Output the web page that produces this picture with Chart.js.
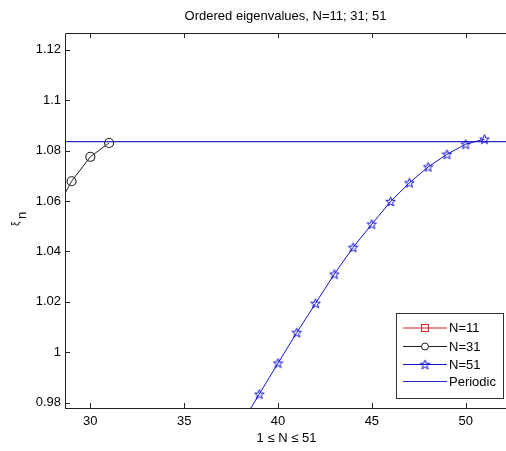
<!DOCTYPE html>
<html><head><meta charset="utf-8">
<script src="https://cdn.jsdelivr.net/npm/chart.js@4"></script>
<style>html,body{margin:0;padding:0;background:#fff;overflow:hidden;}#wrap{width:506px;height:451px;position:relative;overflow:hidden;}</style>
</head><body><div id="wrap"><canvas id="c" width="513" height="451"></canvas></div>
<script>
const titleText = 'Ordered eigenvalues, N=11; 31; 51';
const xLabel = '1 \u2264 N \u2264 51';
const xTicks = [30, 35, 40, 45, 50];
const yTicks = [0.98, 1.00, 1.02, 1.04, 1.06, 1.08, 1.10, 1.12];
const xN11 = [];
const n11 = [];
const xN31 = [28, 29, 30, 31];
const n31 = [1.054, 1.0678, 1.0775, 1.0830];
const xN51 = [38, 39, 40, 41, 42, 43, 44, 45, 46, 47, 48, 49, 50, 51];
const n51 = [0.971, 0.9834, 0.9957, 1.0078, 1.0194, 1.0310, 1.0416, 1.0508, 1.0598, 1.0672, 1.0735, 1.0785, 1.0825, 1.0845];
const xPeriodic = [28, 53];
const periodic = [1.0835, 1.0835];
const seriesNames = ['N=11', 'N=31', 'N=51', 'Periodic'];

const FONT = "'Liberation Sans', Arial, sans-serif";
const pairs = (xs, ys) => xs.map((x, i) => ({x: x, y: ys[i]}));

function starImg(color) {
  const c = document.createElement('canvas');
  c.width = 11; c.height = 11;
  const g = c.getContext('2d');
  g.strokeStyle = color; g.lineWidth = 1;
  g.beginPath();
  for (let i = 0; i < 10; i++) {
    const r = i % 2 === 0 ? 5 : 2.1;
    const a = -Math.PI / 2 + i * Math.PI / 5;
    const px = 5.5 + r * Math.cos(a), py = 5.9 + r * Math.sin(a);
    if (i === 0) g.moveTo(px, py); else g.lineTo(px, py);
  }
  g.closePath(); g.stroke();
  return c;
}
const STAR = starImg('#1010d8');

const colors = ['#e02020', '#202020', '#1414d0', '#2a2ac4'];

const decor = {
  id: 'decor',
  afterDraw(chart) {
    const ctx = chart.ctx, a = chart.chartArea;
    const xs = chart.scales.x, ys = chart.scales.y;
    ctx.save();
    ctx.strokeStyle = '#222'; ctx.lineWidth = 1;
    ctx.beginPath();
    ctx.moveTo(a.left + 0.5, a.bottom + 0.5); ctx.lineTo(a.left + 0.5, a.top + 0.5); ctx.lineTo(a.right, a.top + 0.5);
    ctx.moveTo(a.left, a.bottom + 0.5); ctx.lineTo(a.right, a.bottom + 0.5);
    ctx.stroke();
    ctx.beginPath();
    xTicks.forEach(v => {
      const px = Math.round(xs.getPixelForValue(v)) + 0.5;
      ctx.moveTo(px, a.bottom); ctx.lineTo(px, a.bottom - 5);
      ctx.moveTo(px, a.top); ctx.lineTo(px, a.top + 5);
    });
    yTicks.forEach(v => {
      const py = Math.round(ys.getPixelForValue(v)) + 0.5;
      ctx.moveTo(a.left, py); ctx.lineTo(a.left + 5, py);
    });
    ctx.stroke();
    ctx.fillStyle = '#000';
    ctx.font = '13px ' + FONT;
    ctx.textAlign = 'center'; ctx.textBaseline = 'middle';
    const cx = (65 + 506) / 2;
    ctx.fillText(titleText, cx, 16);
    ctx.fillText(xLabel, cx + 1, 438);
    ctx.save();
    ctx.translate(18, 224);
    ctx.rotate(-Math.PI / 2);
    ctx.textAlign = 'left';
    ctx.font = '10px ' + FONT;
    ctx.fillText('\u03BE', -2, -2);
    ctx.font = '13px ' + FONT;
    ctx.fillText('n', 5, 4);
    ctx.restore();
    const L = 396, T = 313, R = 504, B = 399;
    ctx.fillStyle = '#fff';
    ctx.fillRect(L, T, R - L, B - T);
    ctx.strokeStyle = '#333';
    ctx.strokeRect(L + 0.5, T + 0.5, R - L - 1, B - T - 1);
    const rowsY = [327.5, 346, 364, 381];
    chart.data.datasets.forEach((ds, i) => {
      const y = rowsY[i];
      ctx.strokeStyle = ds.borderColor; ctx.lineWidth = 1;
      ctx.beginPath(); ctx.moveTo(403, y + 0.5); ctx.lineTo(447, y + 0.5); ctx.stroke();
      const mx = 425;
      if (i === 0) { ctx.strokeRect(mx - 3.5, y - 3, 7, 7); }
      else if (i === 1) { ctx.fillStyle = '#fff'; ctx.beginPath(); ctx.arc(mx, y + 0.5, 3.5, 0, Math.PI * 2); ctx.fill(); ctx.stroke(); }
      else if (i === 2) { ctx.drawImage(STAR, mx - 5.5, y - 5); }
      ctx.fillStyle = '#000';
      ctx.font = '13px ' + FONT;
      ctx.textAlign = 'left'; ctx.textBaseline = 'middle';
      ctx.fillText(ds.label, 449, y + 1);
    });
    ctx.restore();
  }
};

new Chart(document.getElementById('c'), {
  type: 'line',
  data: {
    datasets: [
      { label: seriesNames[0], data: pairs(xN11, n11), borderColor: colors[0], borderWidth: 1, pointStyle: 'rect', pointRadius: 4, pointBorderColor: colors[0], pointBackgroundColor: 'rgba(0,0,0,0)', pointBorderWidth: 1 },
      { label: seriesNames[1], data: pairs(xN31, n31), borderColor: colors[1], borderWidth: 1, pointStyle: 'circle', pointRadius: 4.5, pointBorderColor: '#202020', pointBackgroundColor: 'rgba(0,0,0,0)', pointBorderWidth: 1.1 },
      { label: seriesNames[2], data: pairs(xN51, n51), borderColor: colors[2], borderWidth: 1, pointStyle: STAR, pointRadius: 5 },
      { label: seriesNames[3], data: pairs(xPeriodic, periodic), borderColor: colors[3], borderWidth: 1.2, pointRadius: 0 }
    ]
  },
  options: {
    responsive: false, animation: false,
    layout: { padding: { top: 33, right: 0, left: 0, bottom: 0 } },
    plugins: { legend: { display: false }, tooltip: { enabled: false }, title: { display: false } },
    scales: {
      x: {
        type: 'linear', min: 28.65, max: 52.2,
        afterBuildTicks: s => { s.ticks = xTicks.map(v => ({value: v})); },
        afterFit: s => { s.height = 43; s.paddingRight = 0; s.paddingLeft = 0; },
        grid: { display: false, drawTicks: false },
        border: { display: false },
        ticks: { color: '#000', font: { family: FONT, size: 13 }, padding: 6, maxRotation: 0, callback: v => String(v) }
      },
      y: {
        type: 'linear', min: 0.9779, max: 1.1266,
        afterBuildTicks: s => { s.ticks = yTicks.map(v => ({value: v})); },
        afterFit: s => { s.width = 65; },
        grid: { display: false, drawTicks: false },
        border: { display: false },
        ticks: { color: '#000', font: { family: FONT, size: 13 }, padding: 4, callback: v => String(Number(v.toFixed(2))) }
      }
    }
  },
  plugins: [decor]
});
</script></body></html>
